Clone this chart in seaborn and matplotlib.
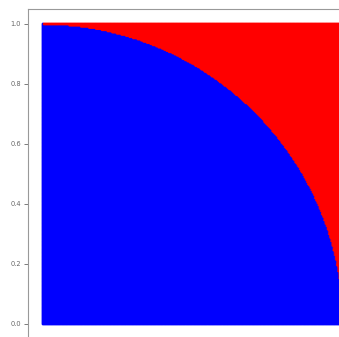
"""Monte Carlo style quarter circle: points inside the unit circle in blue, outside in red."""
import matplotlib
matplotlib.use("Agg")
import matplotlib.pyplot as plt
import numpy as np
import pandas as pd
import seaborn as sns

# values
x_range = [0.0, 1.0]
y_range = [0.0, 1.0]
radius = 1.0
n_side = 260
y_ticks = [0.0, 0.2, 0.4, 0.6, 0.8, 1.0]
y_tick_labels = ["0.0", "0.2", "0.4", "0.6", "0.8", "1.0"]
colores = {True: "blue", False: "red"}

gx, gy = np.meshgrid(np.linspace(*x_range, n_side), np.linspace(*y_range, n_side))
df = pd.DataFrame({"x": gx.ravel(), "y": gy.ravel()})
df["dentro"] = df["x"] ** 2 + df["y"] ** 2 <= radius ** 2

sns.set_style("ticks")
plt.rcParams["axes.edgecolor"] = "#999999"
plt.rcParams["ytick.color"] = "#666666"

fig = plt.figure(figsize=(3.39, 3.37), dpi=100)
ax = fig.add_axes([28 / 339, -2 / 337, 330 / 339, 330 / 337])
sns.scatterplot(data=df, x="x", y="y", hue="dentro", palette=colores,
                s=4, linewidth=0, legend=False, ax=ax)
ax.set_xlim(-0.05, 1.05)
ax.set_ylim(-0.05, 1.05)
ax.set_yticks(y_ticks)
ax.set_yticklabels(y_tick_labels, fontsize=4.8)
ax.tick_params(axis="y", length=3, width=0.6, pad=2)
ax.set_xticks([])
ax.set_xlabel("")
ax.set_ylabel("")
for lado in ax.spines.values():
    lado.set_linewidth(0.8)

fig.savefig("out.png", dpi=100)
